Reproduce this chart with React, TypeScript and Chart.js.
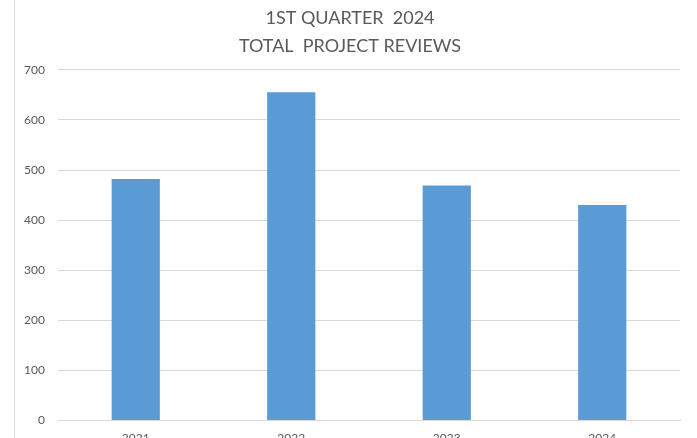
import React, { useEffect, useRef } from "react";
import { Chart, registerables } from "chart.js";

Chart.register(...registerables);

const categories = ["2021", "2022", "2023", "2024"];
const reviews = [482, 655, 469, 430];
const titleLines = ["1ST QUARTER  2024", "TOTAL  PROJECT REVIEWS"];

const FONT = "Lato, 'Liberation Sans', Arial, sans-serif";

const leftBorder = {
  id: "leftBorder",
  beforeDraw(chart: any) {
    const ctx = chart.ctx;
    ctx.save();
    ctx.strokeStyle = "#d9d9d9";
    ctx.lineWidth = 1;
    ctx.beginPath();
    ctx.moveTo(14.5, 0);
    ctx.lineTo(14.5, chart.height);
    ctx.stroke();
    ctx.restore();
  },
};

export default function App() {
  const ref = useRef<HTMLCanvasElement>(null);
  useEffect(() => {
    document.body.style.margin = "0";
    document.body.style.overflow = "hidden";
    document.documentElement.style.overflow = "hidden";
    const chart = new Chart(ref.current!, {
      type: "bar",
      data: {
        labels: categories,
        datasets: [
          {
            data: reviews,
            backgroundColor: "#5b9bd5",
            barPercentage: 0.62,
            categoryPercentage: 0.5,
          },
        ],
      },
      options: {
        responsive: false,
        animation: false,
        layout: { padding: { left: 20, right: 17, top: 4, bottom: 2 } },
        plugins: {
          legend: { display: false },
          tooltip: { enabled: false },
          title: {
            display: true,
            text: titleLines,
            color: "#595959",
            font: { family: FONT, size: 18, weight: "normal", lineHeight: 1.55 },
            padding: { top: 0, bottom: 10 },
          },
        },
        scales: {
          x: {
            grid: { display: false },
            border: { color: "#d9d9d9" },
            ticks: { color: "#595959", font: { family: FONT, size: 12 }, padding: 2 },
          },
          y: {
            min: 0,
            max: 700,
            ticks: {
              stepSize: 100,
              color: "#595959",
              font: { family: FONT, size: 12 },
              padding: 13,
            },
            grid: { color: "#d9d9d9", drawTicks: false },
            border: { display: false },
            afterFit(scale: any) {
              scale.width = 38;
            },
          },
        },
      },
      plugins: [leftBorder],
    });
    return () => chart.destroy();
  }, []);
  return (
    <div style={{ position: "absolute", left: 0, top: 0, width: 697, height: 449 }}>
      <canvas ref={ref} width={697} height={449} />
    </div>
  );
}
